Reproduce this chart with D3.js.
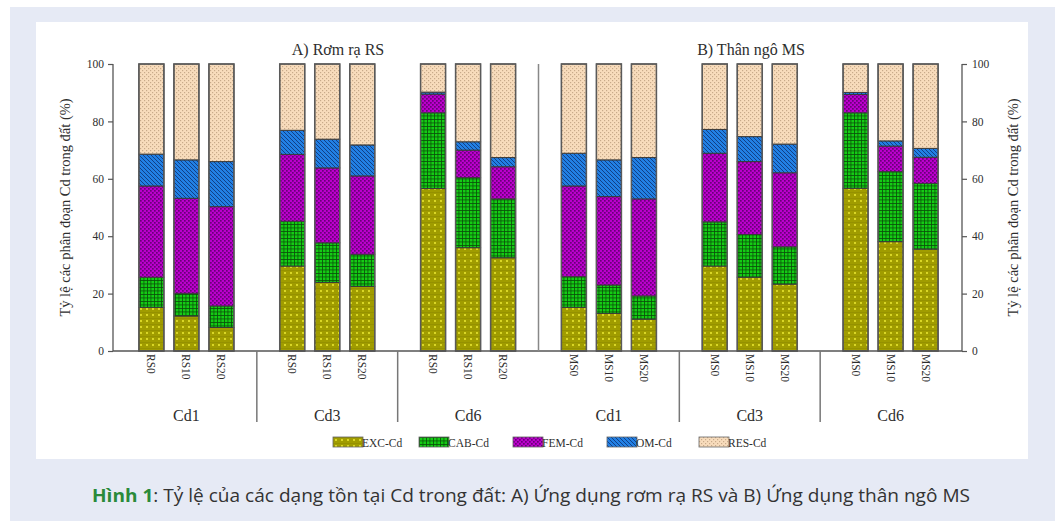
<!DOCTYPE html>
<html><head><meta charset="utf-8">
<script src="https://cdn.jsdelivr.net/npm/d3@7"></script>
<style>html,body{margin:0;padding:0;background:#fff;}svg{display:block;}</style>
</head><body>
<svg id="chart" width="1058" height="521"></svg>
<script>
// ---------- data ----------
const panels = ["A) Rơm rạ RS", "B) Thân ngô MS"];
const levels = ["Cd1", "Cd3", "Cd6"];
const treatmentsRS = ["RS0", "RS10", "RS20"];
const treatmentsMS = ["MS0", "MS10", "MS20"];
const fractions = ["EXC-Cd", "CAB-Cd", "FEM-Cd", "OM-Cd", "RES-Cd"];
const yTicks = [0, 20, 40, 60, 80, 100];
// each row: [EXC, CAB, FEM, OM, RES] in %
const rsCd1 = [[15.2,10.5,31.8,11.1,31.4],[12.2,7.9,33.1,13.4,33.4],[8.2,7.5,34.6,15.7,34.0]];
const rsCd3 = [[29.6,15.6,23.3,8.4,23.1],[23.9,13.8,26.1,10.0,26.2],[22.5,11.2,27.3,10.8,28.2]];
const rsCd6 = [[56.6,26.4,6.5,0.7,9.8],[36.0,24.4,9.6,2.9,27.1],[32.5,20.5,11.2,3.2,32.6]];
const msCd1 = [[15.2,10.7,31.6,11.4,31.1],[13.1,9.9,30.8,12.8,33.4],[11.1,8.1,33.8,14.4,32.6]];
const msCd3 = [[29.6,15.4,23.9,8.3,22.8],[25.7,14.9,25.4,8.7,25.3],[23.3,13.0,25.8,10.0,27.9]];
const msCd6 = [[56.7,26.3,6.4,0.7,9.9],[38.1,24.4,8.9,1.8,26.8],[35.5,22.9,9.1,3.1,29.4]];
const yTitle = "Tỷ lệ các phân đoạn Cd trong đất (%)";
const captionBold = "Hình 1";
const captionRest = ": Tỷ lệ của các dạng tồn tại Cd trong đất: A) Ứng dụng rơm rạ RS và B) Ứng dụng thân ngô MS";

// ---------- build table ----------
const groupData = [
  {panel:0, level:levels[0], treat:treatmentsRS, rows:rsCd1},
  {panel:0, level:levels[1], treat:treatmentsRS, rows:rsCd3},
  {panel:0, level:levels[2], treat:treatmentsRS, rows:rsCd6},
  {panel:1, level:levels[0], treat:treatmentsMS, rows:msCd1},
  {panel:1, level:levels[1], treat:treatmentsMS, rows:msCd3},
  {panel:1, level:levels[2], treat:treatmentsMS, rows:msCd6}
].map((g,i)=>({...g, key:"g"+i}));

const bars = [];
groupData.forEach(g=>{
  g.rows.forEach((r,j)=>{
    const o = {group:g.key, idx:String(j), label:g.treat[j]};
    fractions.forEach((f,k)=>o[f]=r[k]);
    bars.push(o);
  });
});

const svg = d3.select("#chart");
const serif = "'Liberation Serif','Times New Roman',serif";
const txtCol = "#2e2e2e";

// background
svg.append("rect").attr("x",10).attr("y",7).attr("width",1045).attr("height",514).attr("fill","#e6eaf5");
svg.append("rect").attr("x",36).attr("y",22).attr("width",992).attr("height",437).attr("fill","#ffffff");

// ---------- patterns ----------
const defs = svg.append("defs");
function pat(id, size, bg, draw){
  const p = defs.append("pattern").attr("id",id).attr("patternUnits","userSpaceOnUse")
    .attr("width",size).attr("height",size);
  p.append("rect").attr("width",size).attr("height",size).attr("fill",bg);
  draw(p);
}
pat("pEXC",6,"#a09c00",p=>{
  p.append("rect").attr("x",0).attr("y",0).attr("width",6).attr("height",0.4).attr("fill","#858000");
  p.append("circle").attr("cx",3).attr("cy",3).attr("r",0.9).attr("fill","#f4f238");
});
pat("pCAB",3.5,"#14cc14",p=>{
  p.append("rect").attr("width",3.5).attr("height",0.8).attr("fill","#0a500a");
  p.append("rect").attr("width",0.8).attr("height",3.5).attr("fill","#0a500a");
});
pat("pFEM",4,"#bb00cc",p=>{
  p.append("rect").attr("x",0).attr("y",0).attr("width",1.7).attr("height",1.7).attr("fill","#6a0078");
  p.append("rect").attr("x",2).attr("y",2).attr("width",1.7).attr("height",1.7).attr("fill","#6a0078");
});
pat("pOM",4,"#2280e4",p=>{
  p.append("path").attr("d","M0,0 L4,4 M-1,3 L1,5 M3,-1 L5,1").attr("stroke","#0c3070").attr("stroke-width",0.8);
});
pat("pRES",4,"#f8dcbc",p=>{
  p.append("rect").attr("x",0).attr("y",0).attr("width",1.2).attr("height",1.2).attr("fill","#c8aa8a");
  p.append("rect").attr("x",2).attr("y",2).attr("width",1.2).attr("height",1.2).attr("fill","#c8aa8a");
});
const fillOf = d3.scaleOrdinal(fractions, ["url(#pEXC)","url(#pCAB)","url(#pFEM)","url(#pOM)","url(#pRES)"]);

// ---------- scales ----------
const axL = 113, axR = 962, yTop = 64, yBot = 351;
const y = d3.scaleLinear([0,100],[yBot,yTop]);
const xGroup = d3.scaleBand(groupData.map(g=>g.key),[116,961]);
const xBar = d3.scaleBand(["0","1","2"],[0,xGroup.bandwidth()]).paddingInner(0.2857).paddingOuter(0.654).align(0.5);

// ---------- stacked bars ----------
const stack = d3.stack().keys(fractions);
const series = stack(bars);
const gBars = svg.append("g");
series.forEach(s=>{
  gBars.selectAll(null).data(s).join("rect")
    .attr("x",d=>xGroup(d.data.group)+xBar(d.data.idx))
    .attr("width",xBar.bandwidth())
    .attr("y",d=>y(d[1]))
    .attr("height",d=>y(d[0])-y(d[1]))
    .attr("fill",fillOf(s.key))
    .attr("stroke","#3a3a3a").attr("stroke-width",1);
});
gBars.selectAll(null).data(bars).join("rect")
  .attr("x",d=>xGroup(d.group)+xBar(d.idx)).attr("width",xBar.bandwidth())
  .attr("y",y(100)).attr("height",y(0)-y(100))
  .attr("fill","none").attr("stroke","#5a5a5a").attr("stroke-width",1.5);

// ---------- axes ----------
const lineCol = "#555";
const gl = svg.append("g").attr("transform",`translate(${axL},0)`)
  .call(d3.axisLeft(y).tickValues(yTicks).tickSize(5).tickPadding(4));
const gr = svg.append("g").attr("transform",`translate(${axR},0)`)
  .call(d3.axisRight(y).tickValues(yTicks).tickSize(5).tickPadding(5));
[gl,gr].forEach(g=>{
  g.select(".domain").attr("stroke",lineCol).attr("stroke-width",1.3)
    .attr("d",`M0,${y(100)}V${y(0)}`);
  g.selectAll(".tick line").attr("stroke",lineCol).attr("stroke-width",1.2);
  g.selectAll(".tick text").attr("font-family",serif).attr("font-size",11.5).attr("fill",txtCol);
});
svg.append("line").attr("x1",axL).attr("x2",axR).attr("y1",yBot).attr("y2",yBot)
  .attr("stroke",lineCol).attr("stroke-width",1.3);
const midX = (xGroup(groupData[2].key)+xGroup.bandwidth()+xGroup(groupData[3].key))/2;
svg.append("line").attr("x1",midX).attr("x2",midX).attr("y1",yTop).attr("y2",yBot)
  .attr("stroke","#888").attr("stroke-width",1.5);
[1,2,4,5].forEach(i=>{
  const sx = xGroup(groupData[i].key);
  svg.append("line").attr("x1",sx).attr("x2",sx).attr("y1",yBot).attr("y2",422)
    .attr("stroke","#777").attr("stroke-width",1.5);
});

// bar labels (rotated)
svg.append("g").selectAll("text").data(bars).join("text")
  .attr("transform",d=>`translate(${xGroup(d.group)+xBar(d.idx)+xBar.bandwidth()/2-4},${yBot+3}) rotate(90)`)
  .attr("font-family",serif).attr("font-size",11.5).attr("fill",txtCol)
  .attr("text-anchor","start")
  .text(d=>d.label);

// group labels
svg.append("g").selectAll("text").data(groupData).join("text")
  .attr("x",d=>xGroup(d.key)+xGroup.bandwidth()/2).attr("y",421)
  .attr("text-anchor","middle").attr("font-family",serif).attr("font-size",16).attr("fill",txtCol)
  .text(d=>d.level);

// panel titles
svg.append("g").selectAll("text").data(panels).join("text")
  .attr("x",(d,i)=>i===0?338:751).attr("y",55)
  .attr("text-anchor","middle").attr("font-family",serif).attr("font-size",16).attr("fill",txtCol)
  .text(d=>d);

// y titles
svg.append("text").attr("transform",`translate(70,${(yTop+yBot)/2}) rotate(-90)`)
  .attr("text-anchor","middle").attr("font-family",serif).attr("font-size",14.5).attr("fill",txtCol).text(yTitle);
svg.append("text").attr("transform",`translate(1018,${(yTop+yBot)/2}) rotate(-90)`)
  .attr("text-anchor","middle").attr("font-family",serif).attr("font-size",14.5).attr("fill",txtCol).text(yTitle);

// legend
const legX = [333,419,513,607,699];
const leg = svg.append("g").selectAll("g").data(fractions).join("g")
  .attr("transform",(d,i)=>`translate(${legX[i]},437)`);
leg.append("rect").attr("width",30).attr("height",10).attr("fill",d=>fillOf(d))
  .attr("stroke","#666").attr("stroke-width",0.8);
leg.append("text").attr("x",29).attr("y",9.5).attr("font-family",serif).attr("font-size",11.5)
  .attr("fill",txtCol).text(d=>d);

// caption
const cap = svg.append("text").attr("x",92).attr("y",502)
  .attr("font-family","'Open Sans','Noto Sans',sans-serif").attr("font-size",17.5).attr("fill","#333")
  .attr("textLength",878).attr("lengthAdjust","spacingAndGlyphs");
cap.append("tspan").attr("font-weight","bold").attr("fill","#2a8a3a").text(captionBold);
cap.append("tspan").text(captionRest);
</script>
</body></html>
